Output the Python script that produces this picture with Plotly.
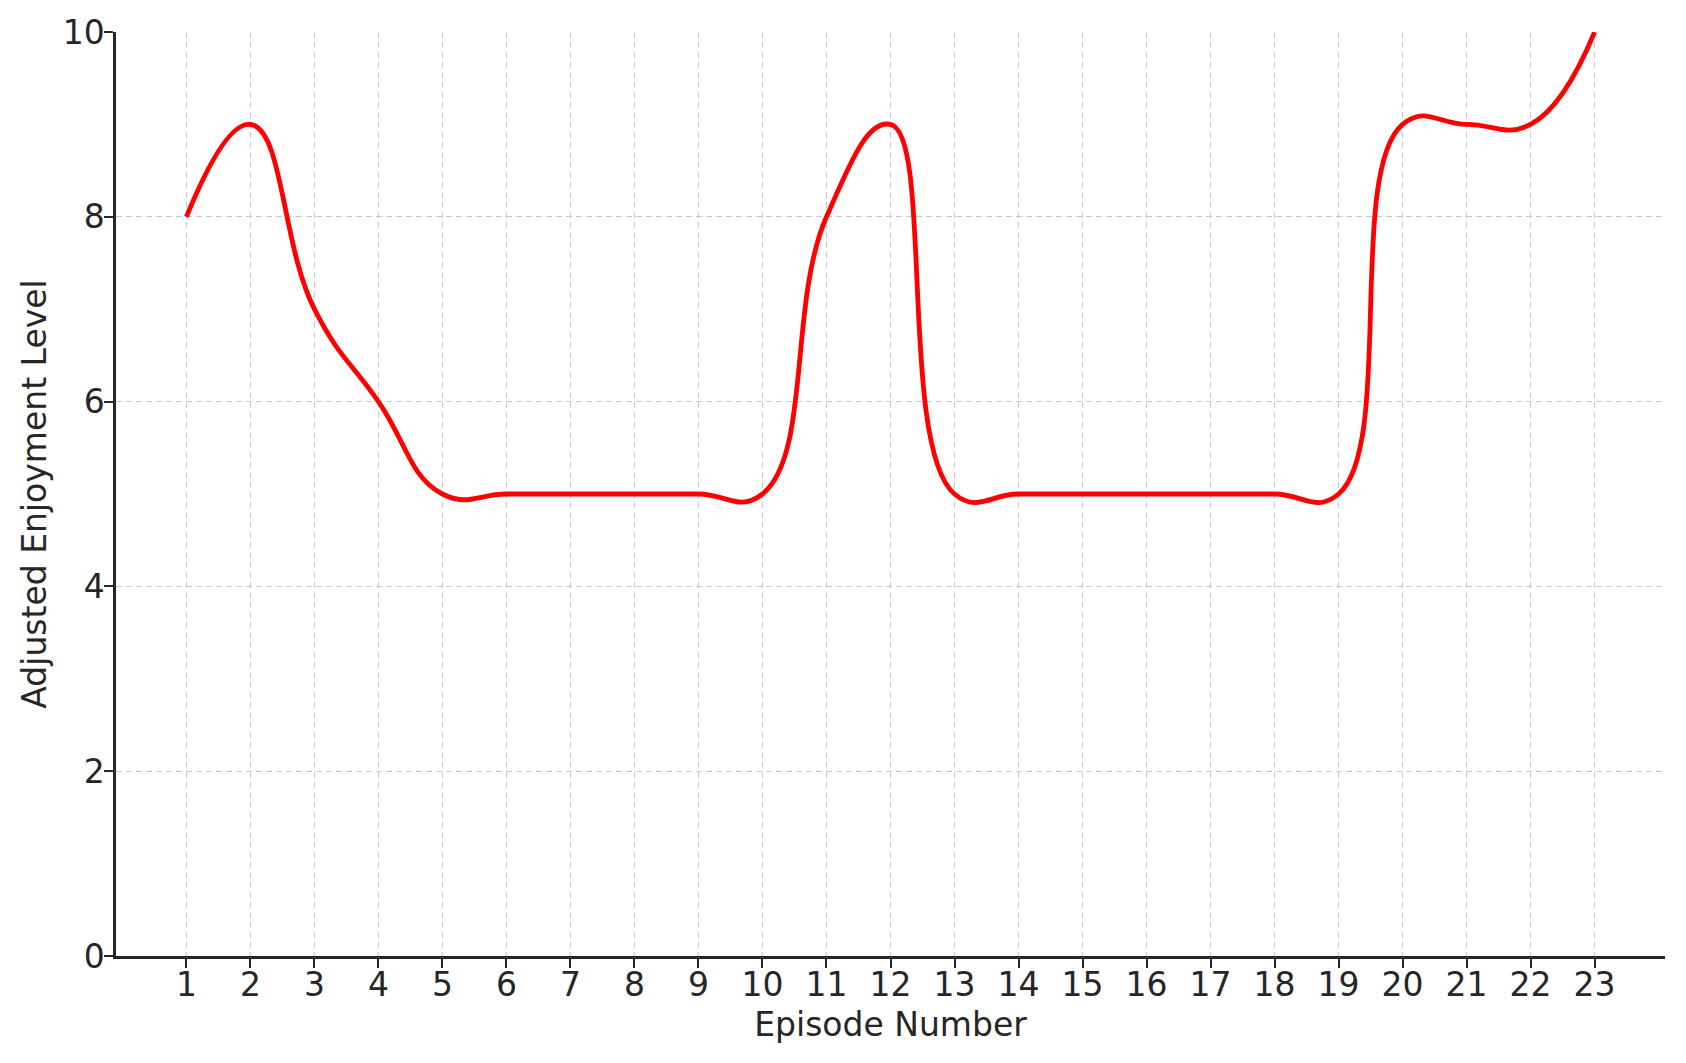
import plotly.graph_objects as go

episodes = list(range(1, 24))
enjoyment = [8, 9, 7, 6, 5, 5, 5, 5, 5, 5, 8, 9, 5, 5, 5, 5, 5, 5, 5, 9, 9, 9, 10]
x_ticks = list(range(1, 24))
y_ticks = [0, 2, 4, 6, 8, 10]

fig = go.Figure()
fig.add_trace(go.Scatter(
    x=episodes, y=enjoyment, mode="lines",
    line=dict(color="#ff0000", width=4.8, shape="spline", smoothing=1.3),
    cliponaxis=True, showlegend=False,
))

font = dict(family="DejaVu Sans", size=33, color="#262626")
axis_common = dict(
    showline=True, linecolor="#262626", linewidth=2.5,
    ticks="outside", ticklen=9, tickwidth=2, tickcolor="#262626",
    showgrid=True, gridcolor="#c8c8c8", gridwidth=1.4, griddash="6px,4px",
    zeroline=False, tickfont=font, mirror=False, automargin=False,
)
fig.update_xaxes(range=[-0.1, 24.1], tickvals=x_ticks, ticktext=[str(v) for v in x_ticks],
                 ticklabelstandoff=-11,
                 title=dict(text="Episode Number", font=font, standoff=10), **axis_common)
fig.update_yaxes(range=[0, 10], tickvals=y_ticks, ticktext=[str(v) for v in y_ticks],
                 ticklabelstandoff=-7,
                 title=dict(text="Adjusted Enjoyment Level", font=font, standoff=7), **axis_common)

fig.update_layout(
    width=1670, height=1047,
    margin=dict(l=108, r=13, t=24, b=99),
    plot_bgcolor="white", paper_bgcolor="white",
    font=font,
)
fig.write_html("out.html")
